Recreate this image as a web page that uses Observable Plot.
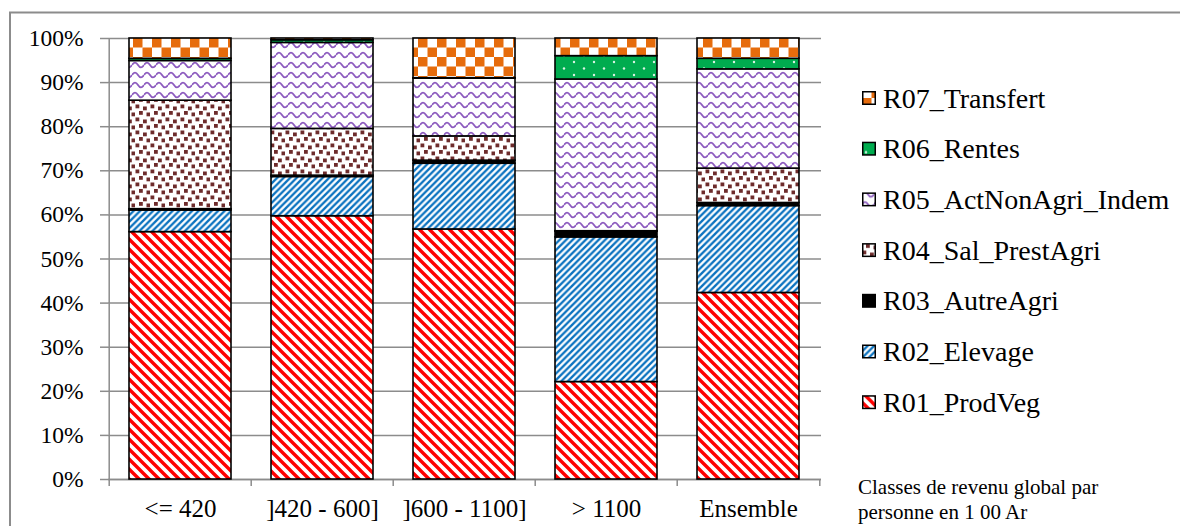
<!DOCTYPE html>
<html>
<head>
<meta charset="utf-8">
<script src="https://cdn.jsdelivr.net/npm/d3@7"></script>
<script src="https://cdn.jsdelivr.net/npm/@observablehq/plot@0.6"></script>
<style>
  html, body { margin: 0; padding: 0; background: #fff; }
  #chart { width: 1180px; height: 526px; overflow: hidden; }
  #chart svg { display: block; font-family: 'Liberation Serif', 'Times New Roman', serif; }
</style>
</head>
<body>
<div id="chart"></div>
<script>
// Income classes (per person, in 100 Ar)
const classes = ["<= 420", "]420 - 600]", "]600 - 1100]", "> 1100", "Ensemble"];

// Income sources, stacked bottom to top
const series = [
  "R01_ProdVeg",
  "R02_Elevage",
  "R03_AutreAgri",
  "R04_Sal_PrestAgri",
  "R05_ActNonAgri_Indem",
  "R06_Rentes",
  "R07_Transfert"
];

// Share (%) of each source in total income, one list per class, in `series` order
const shareLe420     = [56.1,  4.9, 0.3, 24.6,  9.0, 0.5, 4.6];
const share420to600  = [59.7,  8.9, 0.3, 10.6, 19.5, 0.6, 0.4];
const share600to1100 = [56.7, 14.9, 0.7,  5.5, 13.1, 0.1, 9.0];
const shareGt1100    = [22.1, 32.8, 1.3,  0.1, 34.4, 5.3, 4.0];
const shareEnsemble  = [42.3, 19.7, 0.7,  7.8, 22.5, 2.4, 4.6];

const yTicks = [0, 10, 20, 30, 40, 50, 60, 70, 80, 90, 100];
const captionLines = ["Classes de revenu global par", "personne en 1 00 Ar"];

const sharesByClass = [shareLe420, share420to600, share600to1100, shareGt1100, shareEnsemble];
const rows = classes.flatMap((classe, i) =>
  series.map((serie, j) => ({classe, serie, share: sharesByClass[i][j]}))
);

const W = 1180, H = 526;
const M = {top: 38, right: 359, bottom: 47, left: 108};
const step = (W - M.left - M.right) / classes.length;
const serif = "Liberation Serif, Times New Roman, serif";
const fillOf = s => s === "R03_AutreAgri" ? "#000" : `url(#pat-${s})`;

const chart = Plot.plot({
  width: W,
  height: H,
  marginTop: M.top,
  marginRight: M.right,
  marginBottom: M.bottom,
  marginLeft: M.left,
  style: {fontFamily: serif, color: "#000", background: "#fff", overflow: "hidden"},
  x: {domain: classes, paddingInner: 0.28, paddingOuter: 0.14, label: null},
  y: {domain: [0, 100], label: null},
  color: {domain: series, range: series.map(fillOf)},
  marks: [
    Plot.gridY(yTicks, {stroke: "#8c8c8c", strokeOpacity: 1, strokeWidth: 1.5}),
    Plot.ruleY([0], {stroke: "#8c8c8c", strokeWidth: 1.5}),
    Plot.ruleX([classes[0]], {dx: -step / 2, y1: 0, y2: 100, stroke: "#8c8c8c", strokeWidth: 1.5}),
    Plot.axisY(yTicks, {tickSize: 8, tickPadding: 17, stroke: "#8c8c8c", strokeWidth: 1.5,
                        tickFormat: d => d + "%", label: null,
                        fontFamily: serif, fontSize: 23.5, fill: "#000"}),
    Plot.axisX({tickSize: 0, tickPadding: 20, label: null,
                fontFamily: serif, fontSize: 25, fill: "#000"}),
    Plot.axisX({tickSize: 7, tickFormat: () => "", dx: -step / 2, stroke: "#8c8c8c", strokeWidth: 1.5, label: null}),
    Plot.axisX([classes[classes.length - 1]], {tickSize: 7, tickFormat: () => "", dx: step / 2,
                        stroke: "#8c8c8c", strokeWidth: 1.5, label: null}),
    Plot.barY(rows, Plot.stackY({
      x: "classe", y: "share", z: "serie", fill: "serie",
      stroke: "#000", strokeWidth: 1.6
    }))
  ]
});

document.getElementById("chart").appendChild(chart);

// Fill patterns for the stacked segments
const svg = d3.select(chart);
const defs = svg.insert("defs", ":first-child");
function pattern(name, w, h, draw) {
  const p = defs.append("pattern")
    .attr("id", `pat-${name}`)
    .attr("patternUnits", "userSpaceOnUse")
    .attr("width", w).attr("height", h);
  p.append("rect").attr("width", w).attr("height", h).attr("fill", "#fff");
  draw(p);
}
// wide downward diagonal, red
pattern("R01_ProdVeg", 10, 10, p => p.append("path")
  .attr("d", "M-5,5L5,15M0,0L10,10M5,-5L15,5")
  .attr("stroke", "#ff0000").attr("stroke-width", 3.4));
// narrow upward diagonal, blue
pattern("R02_Elevage", 6.5, 6.5, p => p.append("path")
  .attr("d", "M-3.25,3.25L3.25,-3.25M0,6.5L6.5,0M3.25,9.75L9.75,3.25")
  .attr("stroke", "#0a72bf").attr("stroke-width", 2.3));
// confetti, brown
pattern("R04_Sal_PrestAgri", 15, 13, p => p.selectAll("rect.c")
  .data([[0.5, 0.5], [8, 2.5], [4, 7], [11.5, 8.5]])
  .join("rect").attr("class", "c")
  .attr("x", d => d[0]).attr("y", d => d[1])
  .attr("width", 3.8).attr("height", 3.8).attr("fill", "#6e2c2c"));
// wave, purple
pattern("R05_ActNonAgri_Indem", 12, 10, p => p.append("path")
  .attr("d", "M0,5C2,1.8 4,1.8 6,5S10,8.2 12,5")
  .attr("fill", "none").attr("stroke", "#8d5cbf").attr("stroke-width", 1.8));
// dotted, green
pattern("R06_Rentes", 20, 13, p => {
  p.select("rect").attr("fill", "#00ac4f");
  p.selectAll("circle").data([[4, 3.5], [14, 10]]).join("circle")
    .attr("cx", d => d[0]).attr("cy", d => d[1]).attr("r", 1.2).attr("fill", "#d9f2e3");
});
// large checkerboard, orange
pattern("R07_Transfert", 19, 19, p => p.selectAll("rect.c")
  .data([[0, 0], [9.5, 9.5]])
  .join("rect").attr("class", "c")
  .attr("x", d => d[0]).attr("y", d => d[1])
  .attr("width", 9.5).attr("height", 9.5).attr("fill", "#e66c0c"));

// Outer frame of the chart area
svg.append("rect")
  .attr("x", 10).attr("y", 12.5).attr("width", 1200).attr("height", 600)
  .attr("fill", "none").attr("stroke", "#8c8c8c").attr("stroke-width", 2);

// Legend, top source first
const legend = svg.append("g").attr("transform", "translate(862,98)")
  .attr("font-family", serif).attr("font-size", 28).attr("text-anchor", "start");
const item = legend.selectAll("g")
  .data(series.slice().reverse())
  .join("g")
  .attr("transform", (d, i) => `translate(0,${i * 50.7})`);
item.append("rect")
  .attr("x", 0.75).attr("y", -6.25).attr("width", 12.5).attr("height", 12.5)
  .attr("fill", fillOf).attr("stroke", "#000").attr("stroke-width", 1.5);
item.append("text")
  .attr("x", 21).attr("dy", "0.34em").attr("fill", "#000").text(d => d);

// Caption under the legend
svg.append("g").attr("font-family", serif).attr("font-size", 21).attr("fill", "#000")
  .attr("text-anchor", "start")
  .selectAll("text").data(captionLines).join("text")
  .attr("x", 858).attr("y", (d, i) => 494 + i * 25)
  .text(d => d);
</script>
</body>
</html>
